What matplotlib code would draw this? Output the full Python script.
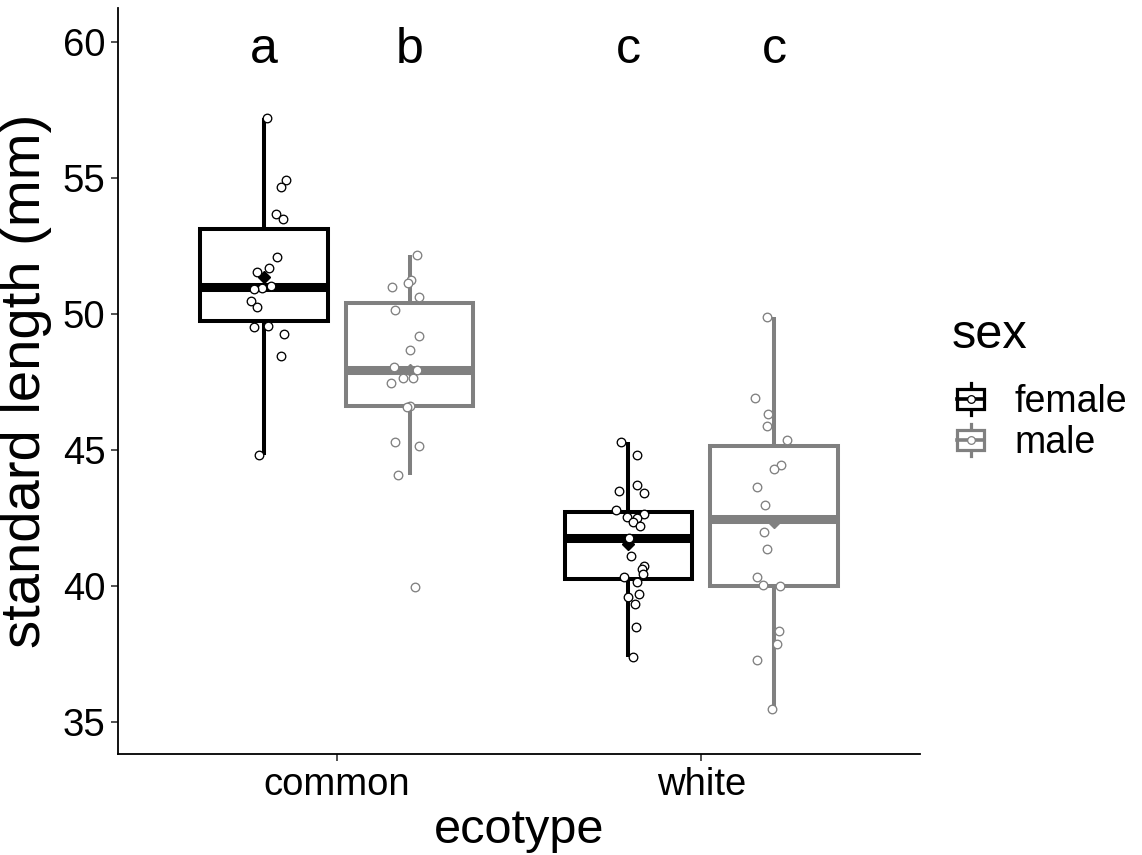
import matplotlib
matplotlib.use("Agg")
import matplotlib.pyplot as plt
import matplotlib.transforms as mtransforms
import numpy as np
from matplotlib.patches import Rectangle
from matplotlib.lines import Line2D
from matplotlib.legend_handler import HandlerBase

plt.rcParams['font.family'] = ['Liberation Sans', 'DejaVu Sans']

# ---- data -------------------------------------------------------------
ecotypes = ["common", "white"]
sexes = ["female", "male"]
sex_colors = {"female": "#000000", "male": "#808080"}

common_female = [57.22, 54.93, 54.67, 53.68, 53.48, 52.10, 51.70, 51.53, 51.04,
                 50.94, 50.92, 50.47, 50.26, 49.56, 49.51, 49.28, 48.47, 44.82]
common_male = [52.18, 51.24, 51.13, 50.99, 50.63, 50.15, 49.19, 48.67, 48.05, 47.95,
               47.64, 47.64, 47.46, 46.62, 46.58, 45.28, 45.14, 44.08, 39.97]
white_female = [45.29, 44.82, 43.70, 43.50, 43.41, 42.79, 42.64, 42.53, 42.49, 42.34,
                42.21, 41.78, 41.10, 40.75, 40.63, 40.43, 40.34, 40.15, 39.72, 39.61,
                39.34, 38.49, 37.40]
white_male = [49.90, 46.90, 46.32, 45.88, 45.36, 44.45, 44.30, 43.65, 42.99,
              41.97, 41.35, 40.32, 40.03, 40.00, 38.36, 37.86, 37.29, 35.47]

# horizontal jitter of each fish (category units), same order as the values
common_female_jitter = [0.008, 0.060, 0.046, 0.033, 0.052, 0.036, 0.014, -0.019, 0.019,
                        -0.005, -0.027, -0.036, -0.019, 0.011, -0.027, 0.055, 0.046, -0.014]
common_male_jitter = [0.021, 0.005, -0.005, -0.049, 0.025, -0.041, 0.027, 0.000, -0.044, 0.019,
                      -0.019, 0.008, -0.052, 0.000, -0.006, -0.039, 0.025, -0.031, 0.014]
white_female_jitter = [-0.021, 0.025, 0.024, -0.025, 0.042, -0.035, 0.043, -0.005, 0.025, 0.014,
                       0.032, 0.003, 0.008, 0.044, 0.038, 0.040, -0.011, 0.024, 0.030, 0.000,
                       0.019, 0.021, 0.014]
white_male_jitter = [-0.021, -0.053, -0.018, -0.019, 0.035, 0.018, -0.001, -0.047, -0.024,
                     -0.027, -0.020, -0.048, -0.031, 0.015, 0.012, 0.007, -0.046, -0.005]

groups = {
    ("common", "female"): (common_female, common_female_jitter),
    ("common", "male"): (common_male, common_male_jitter),
    ("white", "female"): (white_female, white_female_jitter),
    ("white", "male"): (white_male, white_male_jitter),
}

# compact letter display (Tukey groups)
group_letters = {("common", "female"): "a", ("common", "male"): "b",
                 ("white", "female"): "c", ("white", "male"): "c"}
letter_y = 60

y_ticks = [35, 40, 45, 50, 55, 60]

# ---- figure -----------------------------------------------------------
W, H = 1142, 855
fig = plt.figure(figsize=(W / 100, H / 100), dpi=100)
ax = fig.add_axes([118 / W, 1 - 754 / H, (920 - 118) / W, (754 - 8) / H])

dodge = 0.2
box_w = 0.35
lw_box = 2.9
letter_trans = mtransforms.offset_copy(ax.transData, fig=fig, y=-8, units="dots")

for i, eco in enumerate(ecotypes):
    for j, sex in enumerate(sexes):
        vals, jit = groups[(eco, sex)]
        col = sex_colors[sex]
        pos = i + 1 + (j - 0.5) * 2 * dodge
        ax.boxplot([vals], positions=[pos], widths=box_w, whis=1.5,
                   showfliers=False, showcaps=False, patch_artist=True,
                   boxprops=dict(facecolor="white", edgecolor=col, linewidth=lw_box),
                   whiskerprops=dict(color=col, linewidth=lw_box, solid_capstyle="butt"),
                   medianprops=dict(color=col, linewidth=6.5, solid_capstyle="butt"),
                   zorder=2)
        ax.plot([pos], [np.mean(vals)], marker="D", ms=6.5, color=col,
                linestyle="none", zorder=3)
        ax.scatter(pos + np.asarray(jit), vals, s=38, facecolor="white",
                   edgecolor=col, linewidths=0.95, zorder=4)
        ax.text(pos, letter_y, group_letters[(eco, sex)], ha="center", va="center",
                fontsize=36, color="black", transform=letter_trans)

ax.set_xlim(0.4, 2.6)
ax.set_ylim(35 - 32 / 27.2, 60 + 34 / 27.2)
ax.set_xticks([1, 2])
ax.set_xticklabels(ecotypes)
ax.set_yticks(y_ticks)
ax.tick_params(axis="both", labelsize=27.5, length=5, width=1.2, color="#333333",
               labelcolor="black", pad=4)
for side in ("top", "right"):
    ax.spines[side].set_visible(False)
for side in ("left", "bottom"):
    ax.spines[side].set_linewidth(1.3)
ax.set_xlabel("ecotype", fontsize=35, labelpad=4)
ax.set_ylabel("standard length (mm)", fontsize=40.5, labelpad=8)


# legend key: a miniature boxplot with a point
class BoxKey:
    def __init__(self, color):
        self.color = color


class BoxKeyHandler(HandlerBase):
    def create_artists(self, legend, orig_handle, xdescent, ydescent, width, height,
                       fontsize, trans):
        c = orig_handle.color
        cx = width / 2 - xdescent
        cy = height / 2 - ydescent
        bw = width
        bh = height * 0.62
        arts = [
            Line2D([cx, cx], [cy - height * 0.5, cy + height * 0.5], color=c, lw=2.3,
                   transform=trans),
            Rectangle((cx - bw / 2, cy - bh / 2), bw, bh, facecolor="white",
                      edgecolor=c, lw=2.3, transform=trans),
            Line2D([cx - bw / 2, cx + bw / 2], [cy, cy], color=c, lw=2.6, transform=trans),
            Line2D([cx], [cy], marker="o", ms=5.5, mfc="white", mec=c, mew=0.9,
                   transform=trans),
        ]
        return arts


fig.text(952 / W, 1 - 336 / H, "sex", ha="left", va="center", fontsize=35)
handles = [BoxKey(sex_colors[s]) for s in sexes]
leg = fig.legend(handles, sexes, handler_map={BoxKey: BoxKeyHandler()},
                 loc="center left", bbox_to_anchor=(957 / W, 1 - 422 / H),
                 frameon=False, fontsize=27, handlelength=0.72,
                 handleheight=0.92, handletextpad=0.82, labelspacing=0.12,
                 borderaxespad=0, borderpad=0)

fig.savefig("out.png", dpi=100)
